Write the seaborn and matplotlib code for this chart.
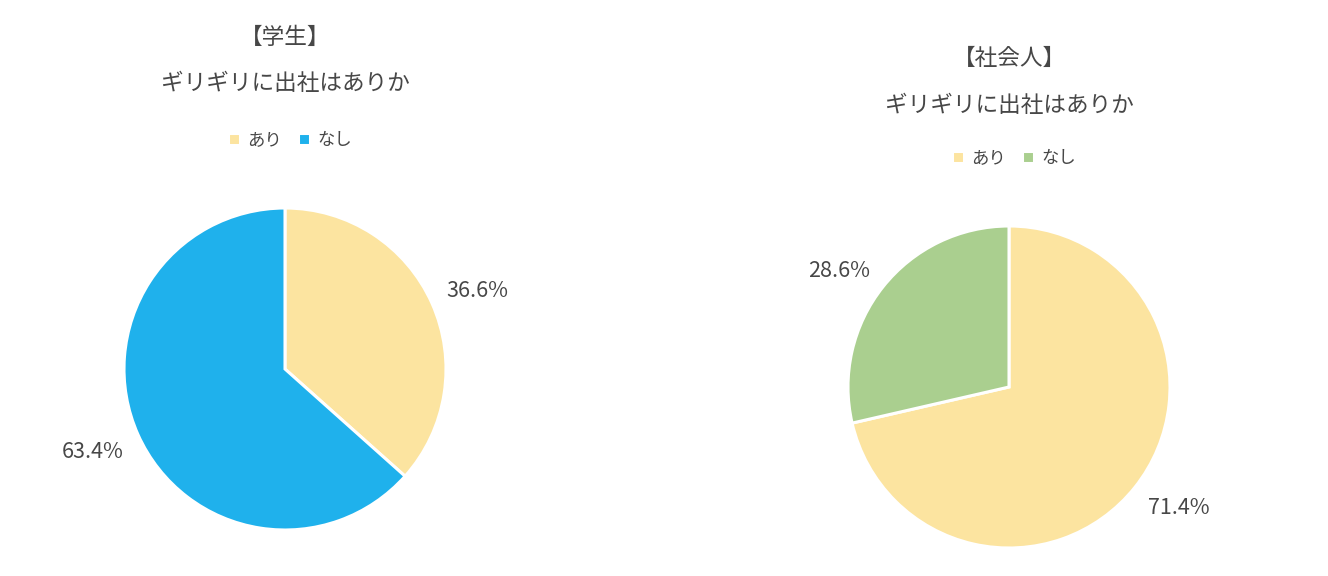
import matplotlib
matplotlib.use("Agg")
import matplotlib.pyplot as plt
import numpy as np
import seaborn as sns

sns.set_theme(style="white")
plt.rcParams['font.family'] = ['Noto Sans CJK JP', 'DejaVu Sans']

categories = ["あり", "なし"]
student_values = [36.6, 63.4]
worker_values = [71.4, 28.6]
student_colors = ["#FCE4A0", "#1FB1EC"]
worker_colors = ["#FCE4A0", "#AACF8F"]
titles = ["【学生】", "【社会人】"]
subtitle = "ギリギリに出社はありか"

W, H = 1328, 576
fig = plt.figure(figsize=(W / 100, H / 100), dpi=100)
text_color = "#474747"

def draw(values, colors, cx, cy, r, title_y1, title_y2, leg_y, title):
    ax = fig.add_axes([(cx - r) / W, (H - cy - r) / H, 2 * r / W, 2 * r / H])
    wedges, texts, autotexts = ax.pie(
        values, colors=colors, startangle=90, counterclock=False,
        autopct="%.1f%%", pctdistance=1.3,
        wedgeprops=dict(edgecolor="white", linewidth=2.2),
        textprops=dict(color=text_color, fontsize=15.5))
    # outside-end label placement: corner of label anchored just beyond the wedge edge
    for w, t in zip(wedges, autotexts):
        mid = np.deg2rad((w.theta1 + w.theta2) / 2)
        c, s = np.cos(mid), np.sin(mid)
        t.set_position((1.1 * c, 1.1 * s))
        t.set_ha("left" if c > 0 else "right")
        t.set_va("baseline" if s > 0 else "top")
    ax.set_xlim(-1, 1)
    ax.set_ylim(-1, 1)
    ax.set_aspect("equal")
    ax.axis("off")
    fig.text(cx / W, 1 - title_y1 / H, title, ha="center", va="center",
             fontsize=16.3, color=text_color)
    fig.text(cx / W, 1 - title_y2 / H, subtitle, ha="center", va="center",
             fontsize=16.3, color=text_color)
    ax.legend(wedges, categories, loc="center", ncol=2, frameon=False,
              bbox_to_anchor=((cx + 5) / W, 1 - leg_y / H), bbox_transform=fig.transFigure,
              handlelength=0.7, handleheight=0.7, handletextpad=0.4, columnspacing=0.9,
              prop=dict(size=12.5), labelcolor=text_color)

draw(student_values, student_colors, 285, 369, 161, 37, 84, 140, titles[0])
draw(worker_values, worker_colors, 1009, 387, 161, 58, 105, 158, titles[1])

fig.savefig("out.png", dpi=100, facecolor="white")
